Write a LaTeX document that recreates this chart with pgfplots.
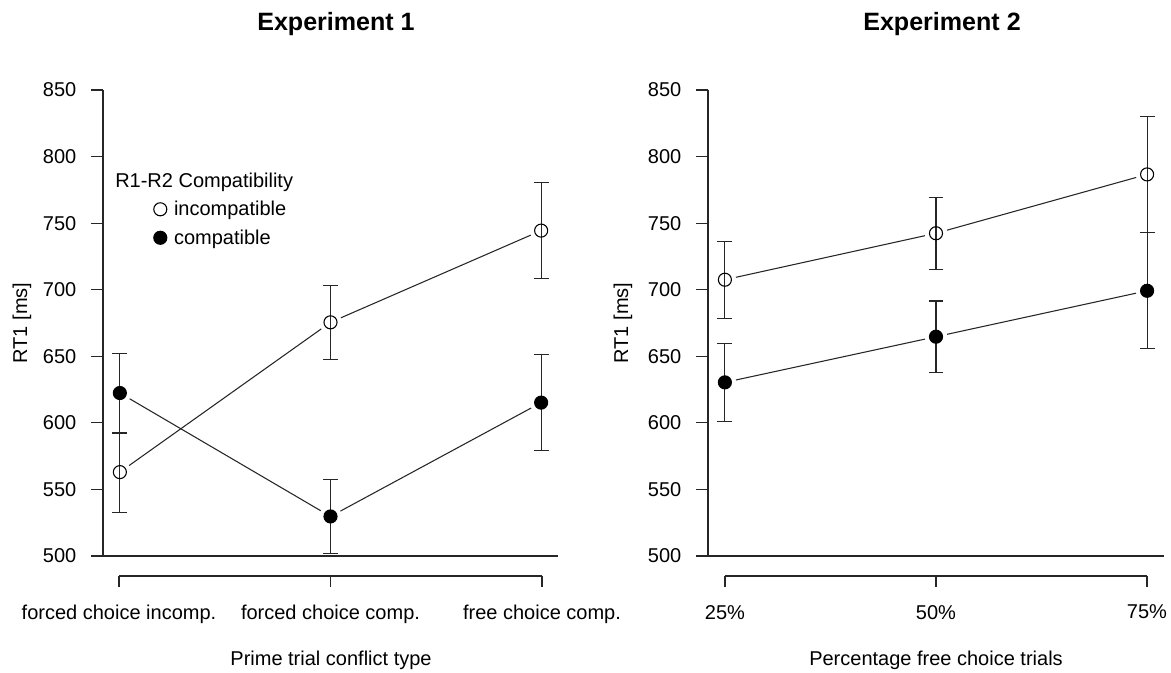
\documentclass[border=0pt]{standalone}
\usepackage{fontspec}
\setmainfont{Liberation Sans}
\usepackage{pgfplots}
\usepackage{pgfplotstable}
\pgfplotsset{compat=1.18}
\newcommand\tickfont{\fontsize{15}{18}\selectfont}
\newcommand\titlefont{\bfseries\fontsize{18.8}{22}\selectfont}
\colorlet{ln}{black!85}

\pgfplotstableread{
x inc incerr comp comperr
1 563.0 30.0 622.4 30.0
2 675.5 27.7 529.7 27.8
3 744.4 36.3 615.2 36.3
}\expone
\pgfplotstableread{
x inc incerr comp comperr
1 707.5 29.0 630.4 29.2
2 742.4 27.2 664.7 26.8
3 786.6 43.8 699.2 43.5
}\exptwo

\pgfplotsset{
  mainax/.style={scale only axis, width=#1, height=349.5pt,
    xmin=0.92, xmax=3.08, ymin=500, ymax=850,
    axis x line*=bottom, axis y line*=left,
    axis line style={-, line width=0.8pt, ln},
    xtick=\empty, ytick={500,550,...,850},
    tick align=outside, major tick length=9pt,
    tick style={line width=0.8pt, ln},
    yticklabel style={font=\tickfont, xshift=-7.5pt},
    /pgf/number format/assume math mode=true,
    clip=false, anchor=south west},
  botax/.style={scale only axis, width=#1, height=10pt,
    xmin=1, xmax=3, ymin=0, ymax=1,
    axis x line*=bottom, axis y line=none,
    axis line style={-, line width=0.8pt, ln},
    xtick={1,2,3}, ytick=\empty,
    tick align=outside, major tick length=8.25pt,
    tick style={line width=0.8pt, ln},
    xticklabel style={font=\tickfont, yshift=-10pt},
    anchor=south west},
  seg/.style={ln, line width=0.8pt, shorten <=8.5pt, shorten >=8.5pt, forget plot, no marks},
  errb/.style={error bars/y dir=both, error bars/y explicit,
    error bars/error bar style={ln, line width=0.8pt},
    error bars/error mark options={ln, line width=0.8pt, mark size=5.6pt, rotate=90}},
  openpt/.style={only marks, mark=o, mark size=4.9pt, mark options={draw=black, fill=none, line width=0.8pt}, errb, forget plot},
  fillpt/.style={only marks, mark=*, mark size=4.9pt, mark options={fill=black, draw=black, line width=0.8pt}, errb, forget plot},
}

\begin{document}
\begin{tikzpicture}
\useasboundingbox (0pt,0pt) rectangle (878.25pt,-504.75pt);

% ---------------- Experiment 1 ----------------
\begin{axis}[mainax=341.25pt, at={(77.25pt,-417pt)},
  legend style={draw=none, fill=none, font=\tickfont,
    at={(axis description cs:0.111,0.768)}, anchor=north west,
    row sep=5pt, column sep=3.4pt, inner sep=0pt},
  legend cell align=left,
  legend image code/.code={\draw[#1] plot coordinates {(0pt,0pt)};}]
\addlegendimage{only marks, mark=o, mark size=4.9pt, mark options={draw=black, line width=0.8pt}}
\addlegendentry{incompatible}
\addlegendimage{only marks, mark=*, mark size=4.9pt, mark options={fill=black, draw=black, line width=0.8pt}}
\addlegendentry{compatible}
\addplot[seg, skip coords between index={2}{3}] table[x=x, y=inc] \expone;
\addplot[seg, skip coords between index={0}{1}] table[x=x, y=inc] \expone;
\addplot[seg, skip coords between index={2}{3}] table[x=x, y=comp] \expone;
\addplot[seg, skip coords between index={0}{1}] table[x=x, y=comp] \expone;
\addplot[openpt] table[x=x, y=inc, y error=incerr] \expone;
\addplot[fillpt] table[x=x, y=comp, y error=comperr] \expone;
\end{axis}
\begin{axis}[botax=317.25pt, at={(89.25pt,-432pt)},
  xticklabels={forced choice incomp., forced choice comp., free choice comp.}]
\end{axis}

% ---------------- Experiment 2 ----------------
\begin{axis}[mainax=342pt, at={(531pt,-417pt)}]
\addplot[seg, skip coords between index={2}{3}] table[x=x, y=inc] \exptwo;
\addplot[seg, skip coords between index={0}{1}] table[x=x, y=inc] \exptwo;
\addplot[seg, skip coords between index={2}{3}] table[x=x, y=comp] \exptwo;
\addplot[seg, skip coords between index={0}{1}] table[x=x, y=comp] \exptwo;
\addplot[openpt] table[x=x, y=inc, y error=incerr] \exptwo;
\addplot[fillpt] table[x=x, y=comp, y error=comperr] \exptwo;
\end{axis}
\begin{axis}[botax=316.5pt, at={(543.75pt,-432pt)},
  xticklabels={25\%, 50\%, 75\%}]
\end{axis}

% ---------------- texts ----------------
\node[font=\titlefont, anchor=base] at (252pt,-23pt) {Experiment 1};
\node[font=\titlefont, anchor=base] at (706.5pt,-23pt) {Experiment 2};
\node[font=\tickfont, anchor=west, inner sep=0pt] at (86.25pt,-136.5pt) {R1-R2 Compatibility};
\node[font=\tickfont, rotate=90] at (16.5pt,-242.25pt) {RT1 [ms]};
\node[font=\tickfont, rotate=90] at (467.25pt,-242.25pt) {RT1 [ms]};
\node[font=\tickfont] at (248.25pt,-495pt) {Prime trial conflict type};
\node[font=\tickfont] at (702pt,-495pt) {Percentage free choice trials};
\end{tikzpicture}
\end{document}
